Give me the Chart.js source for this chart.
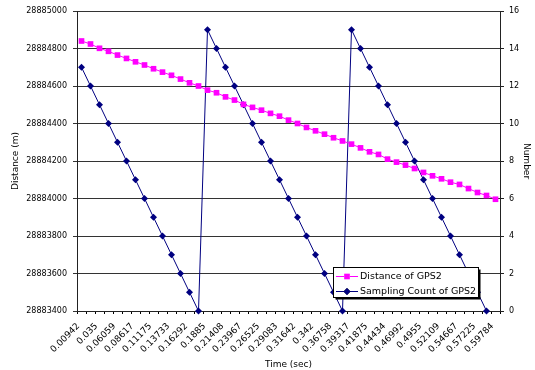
<!DOCTYPE html>
<html>
<head>
<meta charset="utf-8">
<script src="https://cdn.jsdelivr.net/npm/chart.js@4"></script>
<style>
  html, body { margin: 0; padding: 0; background: #fff; }
  #wrap { position: relative; width: 535px; height: 370px; }
</style>
</head>
<body>
<div id="wrap"><canvas id="GpsChart" width="535" height="370"></canvas></div>
<script>
// time stamps (sec), one per sample
const timeLabels = [
  '0.00942', '0.02221', '0.035', '0.04779', '0.06059', '0.07338', '0.08617', '0.09896',
  '0.11175', '0.12454', '0.13733', '0.15013', '0.16292', '0.17571', '0.1885', '0.20129',
  '0.21408', '0.22688', '0.23967', '0.25246', '0.26525', '0.27804', '0.29083', '0.30363',
  '0.31642', '0.32921', '0.342', '0.35479', '0.36758', '0.38038', '0.39317', '0.40596',
  '0.41875', '0.43154', '0.44434', '0.45713', '0.46992', '0.48271', '0.4955', '0.50829',
  '0.52109', '0.53388', '0.54667', '0.55946', '0.57225', '0.58505', '0.59784'
];

// Distance of GPS2 (m)
const distanceGps2 = [
  28884840, 28884824, 28884801, 28884785, 28884765, 28884747, 28884729, 28884712,
  28884692, 28884674, 28884657, 28884637, 28884617, 28884600, 28884578, 28884564,
  28884542, 28884525, 28884502, 28884486, 28884471, 28884454, 28884439, 28884418,
  28884400, 28884379, 28884361, 28884343, 28884324, 28884307, 28884290, 28884270,
  28884249, 28884235, 28884210, 28884194, 28884178, 28884160, 28884139, 28884121,
  28884105, 28884087, 28884075, 28884053, 28884032, 28884016, 28883996
];

// Sampling Count of GPS2
const samplingCount = [
  13, 12, 11, 10, 9, 8, 7, 6, 5, 4, 3, 2, 1, 0,
  15, 14, 13, 12, 11, 10, 9, 8, 7, 6, 5, 4, 3, 2, 1, 0,
  15, 14, 13, 12, 11, 10, 9, 8, 7, 6, 5, 4, 3, 2, 1, 0,
  null
];

const distTicks = { min: 28883400, max: 28885000, step: 200 };
const countTicks = { min: 0, max: 16, step: 2 };

const FONT = 'DejaVu Sans';

// legend drawn inside the plot, lower right, over the lines
const boxLegend = {
  id: 'boxLegend',
  afterDraw(chart) {
    const ctx = chart.ctx;
    const x = 333.5, y = 267.5, w = 145, h = 30;
    ctx.save();
    ctx.fillStyle = '#000';
    ctx.fillRect(x + 2, y + 2, w, h);
    ctx.fillStyle = '#fff';
    ctx.fillRect(x, y, w, h);
    ctx.strokeStyle = '#000';
    ctx.lineWidth = 1;
    ctx.strokeRect(x, y, w, h);
    chart.data.datasets.forEach((ds, i) => {
      const ly = Math.round(y + 8 + i * 15) + 0.5;
      ctx.strokeStyle = ds.borderColor;
      ctx.lineWidth = 1;
      ctx.beginPath();
      ctx.moveTo(336, ly);
      ctx.lineTo(358, ly);
      ctx.stroke();
      Chart.helpers.drawPoint(ctx, {
        pointStyle: ds.pointStyle, radius: ds.pointRadius, borderWidth: 0
      }, 347, ly);
      ctx.fillStyle = ds.pointBackgroundColor;
      ctx.fill();
      ctx.fillStyle = '#000';
      ctx.font = '9.5px "' + FONT + '"';
      ctx.textBaseline = 'middle';
      ctx.textAlign = 'left';
      ctx.fillText(ds.label, 360, ly);
    });
    ctx.restore();
  }
};

new Chart(document.getElementById('GpsChart'), {
  type: 'line',
  data: {
    labels: timeLabels,
    datasets: [
      {
        label: 'Distance of GPS2',
        data: distanceGps2,
        yAxisID: 'y',
        borderColor: '#ff00ff',
        backgroundColor: '#ff00ff',
        pointBackgroundColor: '#ff00ff',
        pointBorderWidth: 0,
        pointStyle: 'rect',
        pointRadius: 4,
        borderWidth: 1,
        tension: 0,
        clip: false
      },
      {
        label: 'Sampling Count of GPS2',
        data: samplingCount,
        yAxisID: 'y1',
        borderColor: '#000080',
        backgroundColor: '#000080',
        pointBackgroundColor: '#000080',
        pointBorderWidth: 0,
        pointStyle: 'rectRot',
        pointRadius: 3.5,
        borderWidth: 1,
        tension: 0,
        spanGaps: false,
        clip: false
      }
    ]
  },
  options: {
    responsive: false,
    animation: false,
    devicePixelRatio: 1,
    layout: { padding: { left: 0, right: 0, top: 11, bottom: 0 } },
    plugins: {
      legend: { display: false },
      tooltip: { enabled: false }
    },
    scales: {
      x: {
        type: 'category',
        offset: true,
        grid: {
          offset: true,
          drawOnChartArea: false,
          drawTicks: true,
          tickLength: 3,
          color: '#000'
        },
        border: { color: '#222', width: 1 },
        ticks: {
          autoSkip: false,
          minRotation: 45,
          maxRotation: 45,
          padding: 7,
          labelOffset: -3,
          color: '#000',
          font: { family: FONT, size: 9 },
          callback: (v, i) => (i % 2 === 0 ? timeLabels[i] : '')
        },
        title: {
          display: true,
          text: 'Time (sec)',
          color: '#000',
          font: { family: FONT, size: 9 },
          padding: { top: 3, bottom: 0 }
        },
        afterFit: s => { s.height = 59; }
      },
      y: {
        position: 'left',
        min: distTicks.min,
        max: distTicks.max,
        grid: { color: '#333', lineWidth: 1, tickLength: 4 },
        border: { color: '#222', width: 1 },
        ticks: {
          stepSize: distTicks.step,
          padding: 6,
          color: '#000',
          font: { family: FONT, size: 8 },
          callback: v => String(v)
        },
        title: {
          display: true,
          text: 'Distance (m)',
          color: '#000',
          font: { family: FONT, size: 9 },
          padding: { top: 10, bottom: 0 }
        },
        afterFit: s => { s.width = 77; }
      },
      y1: {
        position: 'right',
        min: countTicks.min,
        max: countTicks.max,
        grid: { drawOnChartArea: false, color: '#222', tickLength: 4 },
        border: { color: '#222', width: 1 },
        ticks: {
          stepSize: countTicks.step,
          padding: 5,
          color: '#000',
          font: { family: FONT, size: 8 }
        },
        title: {
          display: true,
          text: 'Number',
          color: '#000',
          font: { family: FONT, size: 9 },
          padding: { top: 3, bottom: 0 }
        },
        afterFit: s => { s.width = 35; }
      }
    }
  },
  plugins: [boxLegend]
});
</script>
</body>
</html>
